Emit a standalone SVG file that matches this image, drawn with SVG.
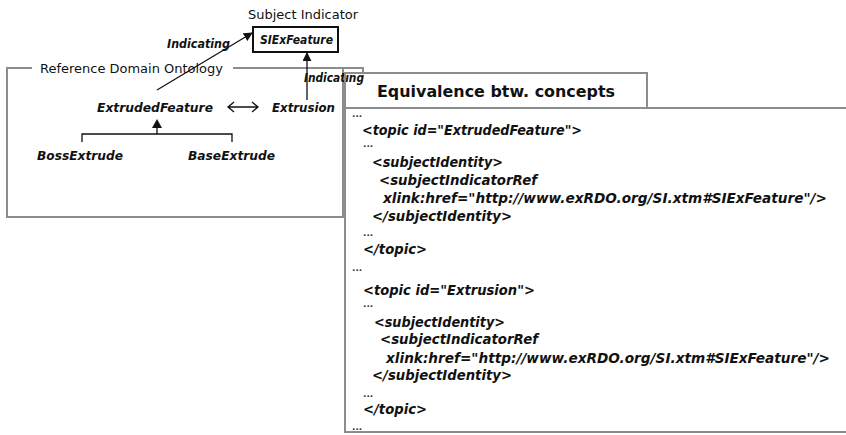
<svg xmlns="http://www.w3.org/2000/svg" width="846" height="435" viewBox="0 0 846 435">
  <style>
    .frame { fill: none; stroke: #8c8c8c; stroke-width: 2; }
    .edge { fill: none; stroke: #111; stroke-width: 1.3; }
    .lbl { font-family: "DejaVu Sans", Verdana, sans-serif; font-weight: bold; font-style: italic; font-size: 12px; fill: #111; }
    .plain { font-family: "DejaVu Sans", Verdana, sans-serif; font-size: 12px; fill: #111; }
    .code { font-family: "DejaVu Sans", Verdana, sans-serif; font-weight: bold; font-style: italic; font-size: 14px; fill: #111; }
    .dots { font-family: "DejaVu Sans", Verdana, sans-serif; font-weight: bold; font-size: 9px; fill: #333; }
    .head { font-family: "DejaVu Sans", Verdana, sans-serif; font-weight: bold; font-size: 16px; fill: #111; }
  </style>
  <defs>
    <marker id="solid" viewBox="0 0 10 10" refX="9" refY="5" markerWidth="9" markerHeight="9" markerUnits="userSpaceOnUse" orient="auto">
      <path d="M0,0 L10,5 L0,10 z" fill="#111"/>
    </marker>
  </defs>

  <rect width="846" height="435" fill="#fff"/>

  <!-- Reference Domain Ontology frame -->
  <g id="rdo-frame">
    <path class="frame" d="M32,68 H7 V217 H343 V68"/>
    <path class="frame" d="M233,68 H363 V73"/>
    <text class="plain" x="40" y="73" font-size="13" textLength="183" lengthAdjust="spacingAndGlyphs">Reference Domain Ontology</text>
  </g>

  <!-- Subject indicator -->
  <g id="subject-indicator">
    <text class="plain" x="248" y="19" textLength="110" lengthAdjust="spacingAndGlyphs">Subject Indicator</text>
    <rect x="253" y="27" width="85" height="25" fill="#fff" stroke="#111" stroke-width="2"/>
    <text class="lbl" x="260" y="44" textLength="73" lengthAdjust="spacingAndGlyphs">SIExFeature</text>
  </g>

  <g id="extruded-feature">
    <text class="lbl" x="97" y="112" textLength="116" lengthAdjust="spacingAndGlyphs">ExtrudedFeature</text>
  </g>
  <g id="extrusion">
    <text class="lbl" x="272" y="112" textLength="63" lengthAdjust="spacingAndGlyphs">Extrusion</text>
  </g>
  <g id="boss-extrude">
    <text class="lbl" x="37" y="160" textLength="86" lengthAdjust="spacingAndGlyphs">BossExtrude</text>
  </g>
  <g id="base-extrude">
    <text class="lbl" x="188" y="160" textLength="87" lengthAdjust="spacingAndGlyphs">BaseExtrude</text>
  </g>

  <!-- Connectors -->
  <g id="connectors">
    <line class="edge" x1="157" y1="90" x2="252" y2="33" marker-end="url(#solid)"/>
    <text class="lbl" x="167" y="48" font-size="11" textLength="63" lengthAdjust="spacingAndGlyphs">Indicating</text>
    <line class="edge" x1="307" y1="100" x2="307" y2="53" marker-end="url(#solid)"/>
    <text class="lbl" x="304" y="82" font-size="11" textLength="60" lengthAdjust="spacingAndGlyphs">Indicating</text>
    <!-- equivalence -->
    <path class="edge" d="M228,107 H258 M234,102 L228,107 L234,112 M252,102 L258,107 L252,112" stroke-width="1.8"/>
    <!-- specialisation -->
    <path class="edge" d="M82,142 V134 H232 V142 M157,134 V126"/>
    <path d="M157,119 L152,128 L162,128 z" fill="#111"/>
  </g>

  <!-- Equivalence panel -->
  <g id="equivalence">
    <path class="frame" d="M345,108 V73 H647 V108"/>
    <path class="frame" d="M846,108 H345 V432 H846"/>
    <text class="head" x="377" y="97" textLength="238" lengthAdjust="spacingAndGlyphs">Equivalence btw. concepts</text>

    <text class="dots" x="352" y="117">...</text>
    <text class="code" x="362" y="135" textLength="220" lengthAdjust="spacingAndGlyphs">&lt;topic id="ExtrudedFeature"&gt;</text>
    <text class="dots" x="363" y="147">...</text>
    <text class="code" x="372" y="167" textLength="131" lengthAdjust="spacingAndGlyphs">&lt;subjectIdentity&gt;</text>
    <text class="code" x="379" y="185" textLength="158" lengthAdjust="spacingAndGlyphs">&lt;subjectIndicatorRef</text>
    <text class="code" x="383" y="203" textLength="444" lengthAdjust="spacingAndGlyphs">xlink:href="http://www.exRDO.org/SI.xtm#SIExFeature"/&gt;</text>
    <text class="code" x="372" y="221" textLength="140" lengthAdjust="spacingAndGlyphs">&lt;/subjectIdentity&gt;</text>
    <text class="dots" x="363" y="236">...</text>
    <text class="code" x="363" y="254" textLength="64" lengthAdjust="spacingAndGlyphs">&lt;/topic&gt;</text>

    <text class="dots" x="352" y="271">...</text>
    <text class="code" x="363" y="295" textLength="172" lengthAdjust="spacingAndGlyphs">&lt;topic id="Extrusion"&gt;</text>
    <text class="dots" x="363" y="307">...</text>
    <text class="code" x="374" y="327" textLength="131" lengthAdjust="spacingAndGlyphs">&lt;subjectIdentity&gt;</text>
    <text class="code" x="380" y="344" textLength="158" lengthAdjust="spacingAndGlyphs">&lt;subjectIndicatorRef</text>
    <text class="code" x="386" y="363" textLength="444" lengthAdjust="spacingAndGlyphs">xlink:href="http://www.exRDO.org/SI.xtm#SIExFeature"/&gt;</text>
    <text class="code" x="372" y="380" textLength="140" lengthAdjust="spacingAndGlyphs">&lt;/subjectIdentity&gt;</text>
    <text class="dots" x="363" y="397">...</text>
    <text class="code" x="363" y="414" textLength="64" lengthAdjust="spacingAndGlyphs">&lt;/topic&gt;</text>
    <text class="dots" x="352" y="430">...</text>
  </g>
</svg>
